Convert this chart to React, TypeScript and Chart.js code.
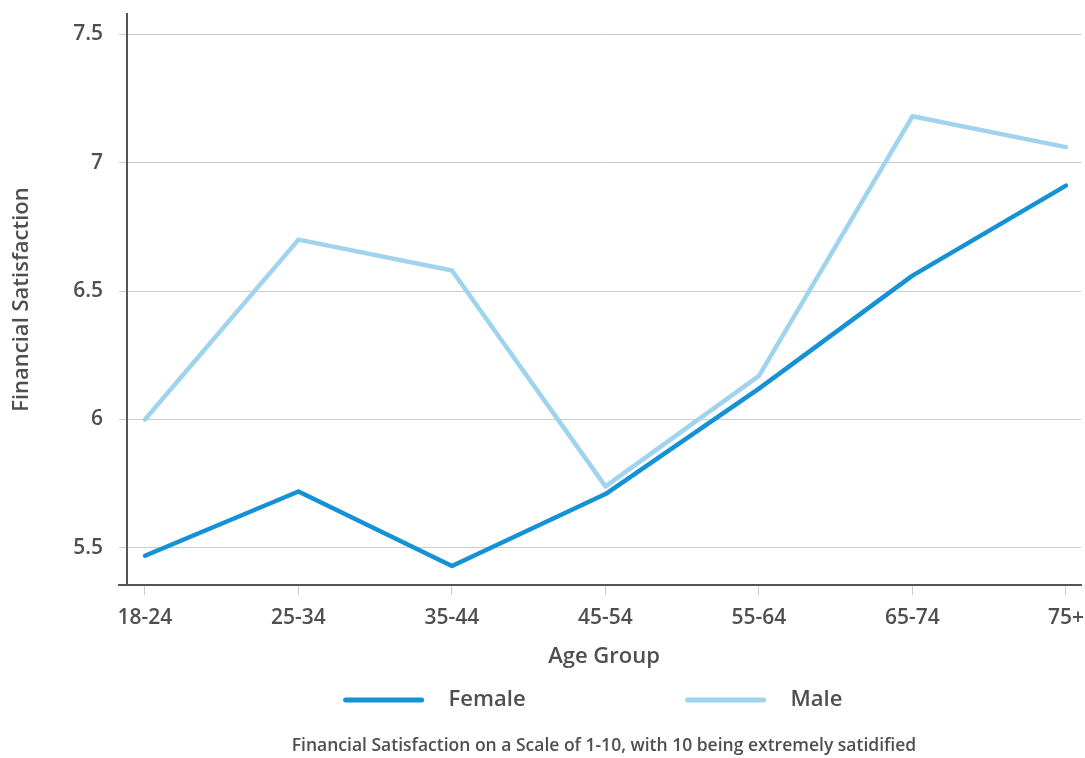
import React, { useEffect, useRef } from "react";
import { Chart, registerables } from "chart.js";

Chart.register(...registerables);

const ageGroups = ["18-24", "25-34", "35-44", "45-54", "55-64", "65-74", "75+"];
const femaleValues = [5.47, 5.72, 5.43, 5.71, 6.12, 6.56, 6.91];
const maleValues = [6.0, 6.7, 6.58, 5.74, 6.17, 7.18, 7.06];
const yTickValues = [5.5, 6, 6.5, 7, 7.5];
const seriesNames = ["Female", "Male"];
const seriesColors = ["#1591d6", "#9fd3ee"];
const yTitle = "Financial Satisfaction";
const xTitle = "Age Group";
const footnote = "Financial Satisfaction on a Scale of 1-10, with 10 being extremely satidified";

const FONT = "'Open Sans', 'Noto Sans', sans-serif";
const TEXT = "#4f4f4f";

const legendAndNote = {
  id: "legendAndNote",
  afterDraw(chart: any) {
    const ctx = chart.ctx as CanvasRenderingContext2D;
    const ds = chart.data.datasets;
    const legendY = 700;
    const lineW = 80;
    const gap = 25;
    const itemGap = 160;
    ctx.save();
    ctx.font = `600 22px ${FONT}`;
    const widths = ds.map((d: any) => lineW + gap + ctx.measureText(d.label).width);
    const total = widths.reduce((a: number, b: number) => a + b, 0) + itemGap * (ds.length - 1);
    const cx = (chart.chartArea.left + chart.chartArea.right) / 2 - 11;
    let x = cx - total / 2;
    ds.forEach((d: any, i: number) => {
      ctx.strokeStyle = d.borderColor;
      ctx.lineWidth = 5;
      ctx.lineCap = "round";
      ctx.beginPath();
      ctx.moveTo(x + 2, legendY);
      ctx.lineTo(x + lineW - 2, legendY);
      ctx.stroke();
      ctx.fillStyle = TEXT;
      ctx.textBaseline = "middle";
      ctx.textAlign = "left";
      ctx.fillText(d.label, x + lineW + gap, legendY);
      x += widths[i] + itemGap;
    });
    ctx.font = `600 17.5px ${FONT}`;
    ctx.textAlign = "center";
    ctx.fillText(footnote, (chart.chartArea.left + chart.chartArea.right) / 2, 746);
    ctx.strokeStyle = "#555555";
    ctx.lineWidth = 2;
    ctx.lineCap = "butt";
    ctx.beginPath();
    ctx.moveTo(chart.chartArea.left - 9, chart.chartArea.bottom);
    ctx.lineTo(chart.chartArea.left, chart.chartArea.bottom);
    ctx.stroke();
    ctx.restore();
  },
};

export default function App() {
  const ref = useRef<HTMLCanvasElement | null>(null);
  useEffect(() => {
    if (!ref.current) return;
    const values = [femaleValues, maleValues];
    const chart = new Chart(ref.current, {
      type: "line",
      data: {
        datasets: seriesNames.map((name, s) => ({
          label: name,
          data: values[s].map((v, i) => ({ x: i, y: v })),
          borderColor: seriesColors[s],
          backgroundColor: seriesColors[s],
          borderWidth: 4.5,
          borderCapStyle: "round",
          borderJoinStyle: "round",
          pointRadius: 0,
          tension: 0,
          fill: false,
        })),
      },
      options: {
        animation: false,
        responsive: false,
        maintainAspectRatio: false,
        layout: { padding: { left: 0, right: 4, top: 14, bottom: 78 } },
        plugins: {
          legend: { display: false },
          tooltip: { enabled: false },
          title: { display: false },
        },
        scales: {
          x: {
            type: "linear",
            min: -0.117,
            max: 6.098,
            afterBuildTicks: (axis: any) => {
              axis.ticks = ageGroups.map((_, i) => ({ value: i }));
            },
            ticks: {
              callback: (v: any) => ageGroups[Math.round(Number(v))],
              font: { family: FONT, size: 21, weight: "600" },
              color: TEXT,
              padding: 10,
              maxRotation: 0,
              autoSkip: false,
            },
            grid: {
              drawOnChartArea: false,
              drawTicks: true,
              tickLength: 10,
              color: "#cccccc",
              lineWidth: 1,
            },
            border: { display: true, color: "#555555", width: 2 },
            title: {
              display: true,
              text: xTitle,
              font: { family: FONT, size: 22, weight: "600" },
              color: TEXT,
              padding: { top: 0, bottom: 10 },
            },
            afterFit: (scale: any) => {
              scale.height = 95;
              scale.paddingLeft = 0;
              scale.paddingRight = 0;
            },
          },
          y: {
            type: "linear",
            min: 5.356,
            max: 7.578,
            afterBuildTicks: (axis: any) => {
              axis.ticks = yTickValues.map((v) => ({ value: v }));
            },
            ticks: {
              callback: (v: any) => String(v),
              font: { family: FONT, size: 21, weight: "600" },
              color: TEXT,
              padding: 16,
            },
            grid: {
              color: "#cccccc",
              lineWidth: 1,
              drawTicks: true,
              tickLength: 8,
            },
            border: { display: true, color: "#555555", width: 2 },
            title: {
              display: true,
              text: yTitle,
              font: { family: FONT, size: 22, weight: "600" },
              color: TEXT,
              padding: { top: 9, bottom: 0 },
            },
            afterFit: (scale: any) => {
              scale.width = 127;
              scale.paddingTop = 0;
              scale.paddingBottom = 0;
            },
          },
        },
      } as any,
      plugins: [legendAndNote],
    });
    return () => chart.destroy();
  }, []);
  return (
    <div style={{ position: "absolute", left: 0, top: 0, width: 1085, height: 758, background: "#fff" }}>
      <canvas ref={ref} width={1085} height={758} style={{ display: "block" }} />
    </div>
  );
}
